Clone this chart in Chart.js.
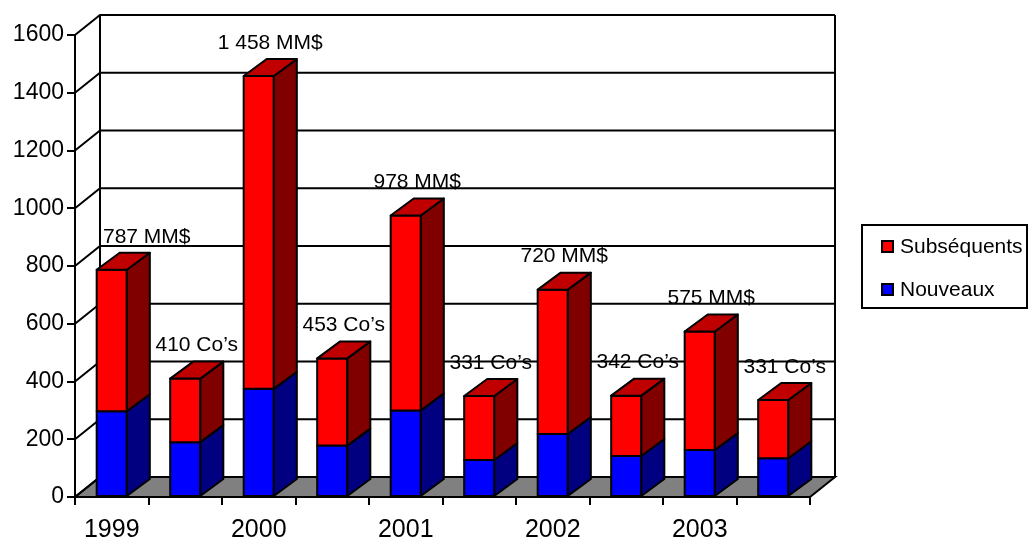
<!DOCTYPE html>
<html>
<head>
<meta charset="utf-8">
<script src="https://cdn.jsdelivr.net/npm/chart.js@4.4.1/dist/chart.umd.min.js"></script>
<style>
  html, body { margin: 0; padding: 0; background: #fff; }
  #wrap { width: 1029px; height: 538px; position: relative; }
</style>
</head>
<body>
<div id="wrap"><canvas id="chart" width="1029" height="538"></canvas></div>
<script>
// values
const categories = ['1999', '', '2000', '', '2001', '', '2002', '', '2003', ''];
const nouveaux = [297, 190, 375, 178, 300, 128, 218, 142, 163, 134];
const subsequents = [490, 220, 1083, 302, 675, 222, 500, 209, 410, 202];
const barLabels = ['787 MM$', '410 Co\u2019s', '1 458 MM$', '453 Co\u2019s', '978 MM$',
                   '331 Co\u2019s', '720 MM$', '342 Co\u2019s', '575 MM$', '331 Co\u2019s'];
const yMax = 1600;
const yStep = 200;

const FONT = 'Liberation Sans, Arial, sans-serif';
const WALL_DX = 25, WALL_DY = 20;   // depth of the floor / walls
const BAR_DX = 23, BAR_DY = 17;     // depth of a bar

const threeD = {
  id: 'threeD',
  beforeDatasetsDraw(chart) {
    const ctx = chart.ctx;
    const area = chart.chartArea;
    const y = chart.scales.y;
    ctx.save();
    ctx.lineWidth = 2;
    ctx.strokeStyle = '#000';
    // floor
    ctx.fillStyle = '#808080';
    ctx.beginPath();
    ctx.moveTo(area.left, area.bottom);
    ctx.lineTo(area.right, area.bottom);
    ctx.lineTo(area.right + WALL_DX, area.bottom - WALL_DY);
    ctx.lineTo(area.left + WALL_DX, area.bottom - WALL_DY);
    ctx.closePath();
    ctx.fill();
    ctx.stroke();
    // gridlines on the side wall and back wall
    for (let v = 0; v <= yMax; v += yStep) {
      const py = y.getPixelForValue(v);
      ctx.beginPath();
      ctx.moveTo(area.left, py);
      ctx.lineTo(area.left + WALL_DX, py - WALL_DY);
      ctx.lineTo(area.right + WALL_DX, py - WALL_DY);
      ctx.stroke();
    }
    // back corners
    const top = y.getPixelForValue(yMax) - WALL_DY;
    const bot = y.getPixelForValue(0) - WALL_DY;
    ctx.beginPath();
    ctx.moveTo(area.left + WALL_DX, top);
    ctx.lineTo(area.left + WALL_DX, bot);
    ctx.moveTo(area.right + WALL_DX, top);
    ctx.lineTo(area.right + WALL_DX, bot);
    ctx.stroke();
    ctx.restore();
  },
  afterDatasetsDraw(chart) {
    const ctx = chart.ctx;
    const area = chart.chartArea;
    const metaB = chart.getDatasetMeta(0);
    const metaR = chart.getDatasetMeta(1);
    ctx.save();
    ctx.lineWidth = 2;
    ctx.strokeStyle = '#000';
    ctx.lineJoin = 'round';
    const quad = (pts, color) => {
      ctx.fillStyle = color;
      ctx.beginPath();
      ctx.moveTo(pts[0][0], pts[0][1]);
      for (let k = 1; k < pts.length; k++) ctx.lineTo(pts[k][0], pts[k][1]);
      ctx.closePath();
      ctx.fill();
      ctx.stroke();
    };
    for (let i = 0; i < categories.length; i++) {
      const b = metaB.data[i].getProps(['x', 'y', 'base', 'width'], true);
      const r = metaR.data[i].getProps(['x', 'y', 'base', 'width'], true);
      const left = b.x - b.width / 2, right = b.x + b.width / 2;
      // front faces, outlined
      quad([[left, b.base], [right, b.base], [right, b.y], [left, b.y]], '#0000FF');
      quad([[left, r.base], [right, r.base], [right, r.y], [left, r.y]], '#FF0000');
      // side faces
      quad([[right, b.base], [right + BAR_DX, b.base - BAR_DY], [right + BAR_DX, b.y - BAR_DY], [right, b.y]], '#000080');
      quad([[right, r.base], [right + BAR_DX, r.base - BAR_DY], [right + BAR_DX, r.y - BAR_DY], [right, r.y]], '#800000');
      // top face
      quad([[left, r.y], [right, r.y], [right + BAR_DX, r.y - BAR_DY], [left + BAR_DX, r.y - BAR_DY]], '#C00000');
      // label, kept inside the back wall
      ctx.fillStyle = '#000';
      ctx.font = '21px ' + FONT;
      ctx.textAlign = 'left';
      ctx.textBaseline = 'middle';
      const w = ctx.measureText(barLabels[i]).width;
      let lx = (left + right + BAR_DX) / 2 - w / 2;
      lx = Math.max(lx, area.left + WALL_DX + 3);
      ctx.fillText(barLabels[i], lx, r.y - BAR_DY - 16);
    }
    ctx.restore();
  },
  afterDraw(chart) {
    // legend box
    const ctx = chart.ctx;
    ctx.save();
    ctx.lineWidth = 2;
    ctx.strokeStyle = '#000';
    ctx.strokeRect(862, 225, 165, 83);
    const items = [chart.data.datasets[1], chart.data.datasets[0]];
    items.forEach((ds, k) => {
      const cy = 247 + k * 43;
      ctx.fillStyle = ds.backgroundColor;
      ctx.fillRect(882, cy - 6, 11, 11);
      ctx.lineWidth = 2;
      ctx.strokeRect(882, cy - 6, 11, 11);
      ctx.fillStyle = '#000';
      ctx.font = '21px ' + FONT;
      ctx.textAlign = 'left';
      ctx.textBaseline = 'middle';
      ctx.fillText(ds.label, 900, cy);
    });
    ctx.restore();
  }
};

new Chart(document.getElementById('chart'), {
  type: 'bar',
  data: {
    labels: categories,
    datasets: [
      { label: 'Nouveaux', data: nouveaux, backgroundColor: '#0000FF',
        borderColor: '#000', borderWidth: 0 },
      { label: 'Subséquents', data: subsequents, backgroundColor: '#FF0000',
        borderColor: '#000', borderWidth: 0 }
    ]
  },
  plugins: [threeD],
  options: {
    responsive: false,
    animation: false,
    layout: { padding: { top: 35, right: 219, left: 0, bottom: 0 } },
    datasets: { bar: { categoryPercentage: 1, barPercentage: 0.41 } },
    plugins: { legend: { display: false }, tooltip: { enabled: false } },
    scales: {
      x: {
        stacked: true,
        afterFit: s => { s.height = 41; },
        grid: { display: true, drawOnChartArea: false, color: '#000', lineWidth: 2, tickLength: 8, offset: true },
        border: { display: false },
        ticks: { color: '#000', font: { family: FONT, size: 25 }, padding: 10, maxRotation: 0, autoSkip: false }
      },
      y: {
        stacked: true,
        min: 0,
        max: yMax,
        afterFit: s => { s.width = 75; },
        grid: { display: true, drawOnChartArea: false, color: '#000', lineWidth: 2, tickLength: 8 },
        border: { display: true, color: '#000', width: 2 },
        ticks: { stepSize: yStep, color: '#000', font: { family: FONT, size: 23 }, padding: 3,
                 callback: v => String(v) }
      }
    }
  }
});
</script>
</body>
</html>
